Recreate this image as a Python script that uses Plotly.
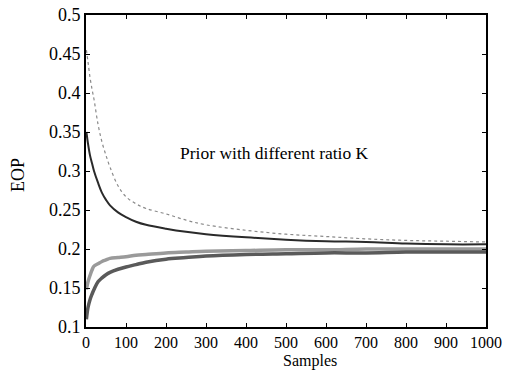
import plotly.graph_objects as go

samples = [1, 5, 10, 15, 20, 30, 40, 50, 60, 80, 100, 125, 150, 200, 250, 300, 400, 500, 600, 700, 800, 900, 1000]
eop_k_top_light = [0.455, 0.44, 0.42, 0.405, 0.392, 0.36, 0.337, 0.32, 0.305, 0.281, 0.267, 0.258, 0.252, 0.245, 0.237, 0.231, 0.224, 0.219, 0.216, 0.213, 0.211, 0.210, 0.209]
eop_k_top_dark = [0.35, 0.335, 0.32, 0.31, 0.30, 0.285, 0.272, 0.263, 0.256, 0.247, 0.241, 0.235, 0.231, 0.226, 0.222, 0.219, 0.215, 0.212, 0.210, 0.209, 0.207, 0.206, 0.206]
eop_k_low_light = [0.148, 0.158, 0.166, 0.173, 0.178, 0.181, 0.184, 0.186, 0.188, 0.189, 0.190, 0.192, 0.193, 0.195, 0.196, 0.197, 0.198, 0.199, 0.199, 0.200, 0.200, 0.200, 0.200]
eop_k_low_dark = [0.11, 0.125, 0.135, 0.142, 0.148, 0.158, 0.163, 0.167, 0.170, 0.174, 0.177, 0.180, 0.183, 0.187, 0.189, 0.191, 0.193, 0.194, 0.195, 0.195, 0.196, 0.196, 0.196]

x_ticks = [0, 100, 200, 300, 400, 500, 600, 700, 800, 900, 1000]
y_ticks = [0.1, 0.15, 0.2, 0.25, 0.3, 0.35, 0.4, 0.45, 0.5]
y_ticklabels = ["0.1", "0.15", "0.2", "0.25", "0.3", "0.35", "0.4", "0.45", "0.5"]

font = "Liberation Serif"

fig = go.Figure()
fig.add_trace(go.Scatter(x=samples, y=eop_k_low_light, mode="lines",
                         line=dict(color="#9a9a9a", width=3.5, shape="spline"), showlegend=False))
fig.add_trace(go.Scatter(x=samples, y=eop_k_low_dark, mode="lines",
                         line=dict(color="#5a5a5a", width=3.5, shape="spline"), showlegend=False))
fig.add_trace(go.Scatter(x=samples, y=eop_k_top_light, mode="lines",
                         line=dict(color="#8a8a8a", width=1.2, dash="dot", shape="spline"), showlegend=False))
fig.add_trace(go.Scatter(x=samples, y=eop_k_top_dark, mode="lines",
                         line=dict(color="#2a2a2a", width=2, shape="spline"), showlegend=False))

fig.add_annotation(x=471, y=0.323, text="Prior with different ratio K", showarrow=False,
                   font=dict(family=font, size=17.5, color="black"))
fig.add_annotation(x=559, xref="x", y=-0.108, yref="paper", yanchor="middle", xanchor="center",
                   text="Samples", showarrow=False,
                   font=dict(family=font, size=16, color="black"))
fig.add_annotation(x=-0.17, xref="paper", y=0.487, yref="paper", xanchor="center", yanchor="middle",
                   text="EOP", textangle=-90,
                   showarrow=False, font=dict(family=font, size=18, color="black"))

axis_common = dict(showline=True, linecolor="black", linewidth=2, mirror="ticks",
                   ticks="inside", ticklen=4, tickwidth=1, tickcolor="black",
                   showgrid=False, zeroline=False, automargin=False)

fig.update_xaxes(range=[0, 1000], tickvals=x_ticks,
                 tickfont=dict(family=font, size=16, color="black"), **axis_common)
fig.update_yaxes(range=[0.1, 0.5], tickvals=y_ticks, ticktext=y_ticklabels,
                 tickfont=dict(family=font, size=18, color="black"), **axis_common)

fig.update_layout(width=516, height=370, margin=dict(l=86, r=30, t=15, b=43),
                  plot_bgcolor="white", paper_bgcolor="white",
                  font=dict(family=font, color="black"))

fig.write_html("out.html")
